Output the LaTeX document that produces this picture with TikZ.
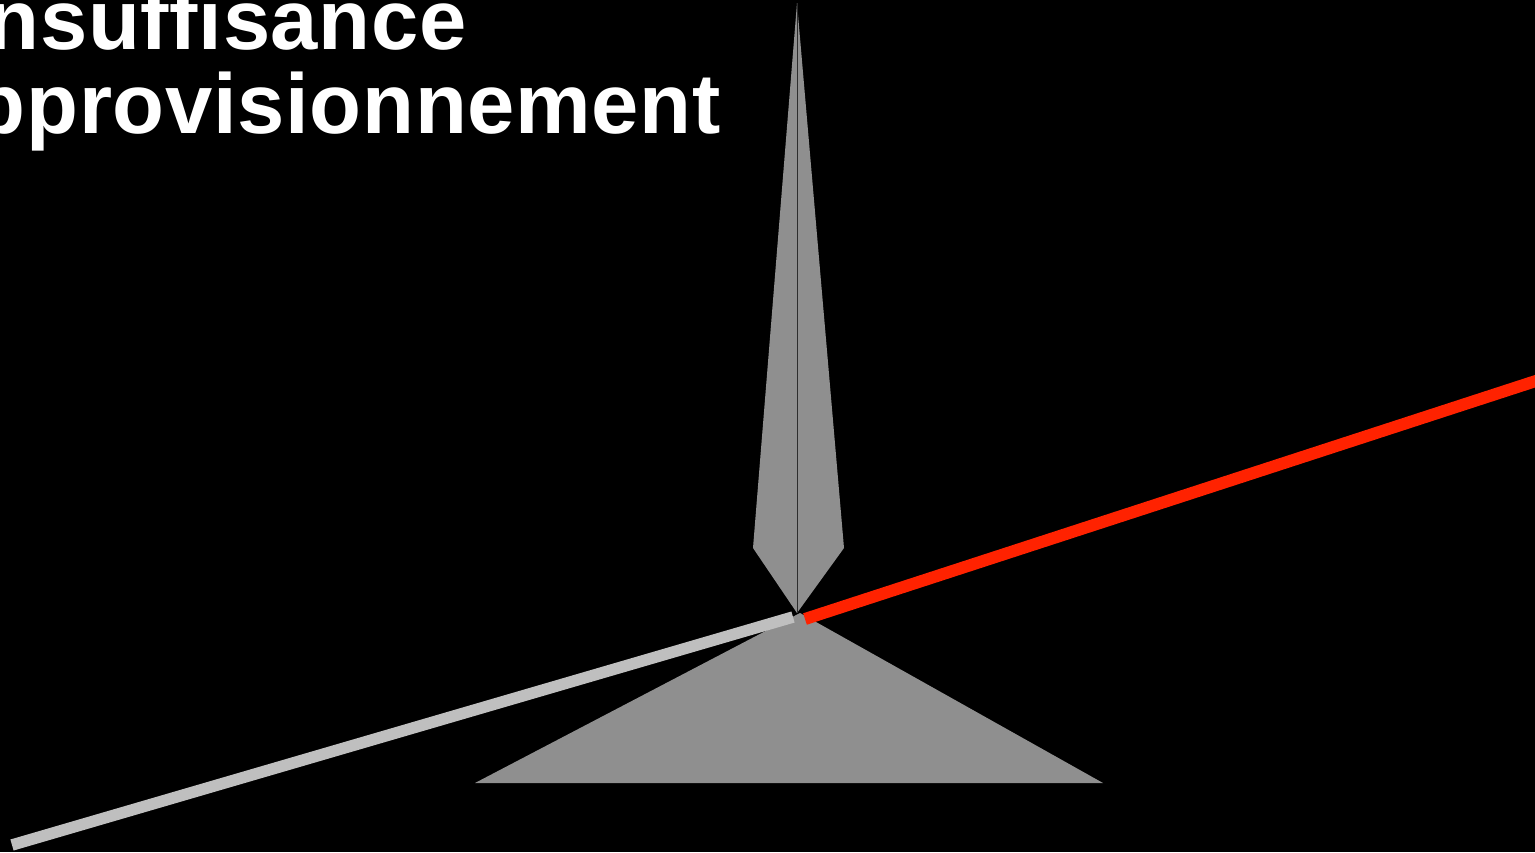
\documentclass[tikz,border=0pt]{standalone}
\usepackage{fontspec}
\setmainfont{Liberation Sans}
\newfontfamily\titlefont[LetterSpace=0.8]{Liberation Sans}
\definecolor{shapegrey}{RGB}{143,143,143}
\definecolor{lightgrey}{RGB}{191,191,191}
\definecolor{needledark}{RGB}{45,45,45}
\definecolor{redstroke}{RGB}{255,34,0}
\tikzset{
  titletext/.style={text=white, inner sep=0pt, font=\titlefont\bfseries\fontsize{85pt}{84pt}\selectfont},
  greyshape/.style={fill=shapegrey},
  lightline/.style={draw=lightgrey, line width=11.5pt, line cap=butt},
  needleline/.style={draw=needledark, line width=1pt},
  redline/.style={draw=redstroke, line width=12pt, line cap=butt}
}
\begin{document}
\begin{tikzpicture}[x=1pt,y=-1pt]
\useasboundingbox (0,0) rectangle (1535,852);
\clip (0,0) rectangle (1535,852);
\fill[black] (0,0) rectangle (1535,852);
% base triangle
\fill[greyshape] (475,783) -- (800,613) -- (1103,783) -- cycle;
% light grey line
\coordinate (lgA) at (12,845);
\coordinate (lgB) at (793,617);
\draw[lightline] (lgA) -- (lgB);
% needle
\fill[greyshape] (797,3) -- (844,548) -- (797,613) -- (753,548) -- cycle;
\coordinate (ndTop) at (797,3);
\coordinate (ndBot) at (797,612);
\draw[needleline] (ndTop) -- (ndBot);
% red line
\coordinate (rdA) at (805,619);
\coordinate (rdB) at (1545,378);
\draw[redline] (rdA) -- (rdB);
% title text
\node[titletext, anchor=base east] (line1) at (467,49) {nsuffisance};
\node[titletext, anchor=base east] (line2) at (721,133) {pprovisionnement};
\end{tikzpicture}
\end{document}
